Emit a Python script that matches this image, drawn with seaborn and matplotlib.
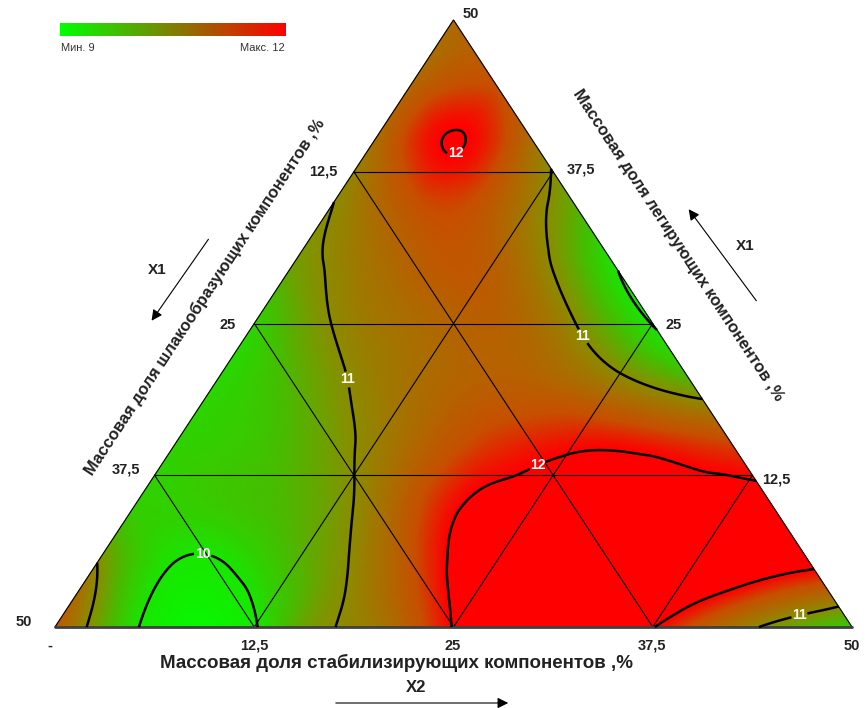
import numpy as np
import matplotlib
matplotlib.use("Agg")
import matplotlib.pyplot as plt
import matplotlib.tri as mtri
from matplotlib.colors import LinearSegmentedColormap
import seaborn as sns

# node grid step along each side, %
step = 5
# values, one list per row of constant alloying share
# (l = 0, 5, ..., 50); inside a row the stabilizing share goes s = 0, 5, ...
row_l00 = [11.6, 10.08, 9.35, 10.65, 11.2, 12.02, 12.45, 12.3, 11.65, 10.88, 10.3]
row_l05 = [11.05, 9.97, 10.2, 10.88, 11.67, 12.3, 12.5, 12.45, 12.25, 12.05]
row_l10 = [10.3, 10.35, 10.6, 11.2, 11.95, 12.15, 12.25, 12.2, 12.15]
row_l15 = [10.25, 10.4, 10.85, 11.4, 11.8, 11.95, 11.9, 11.75]
row_l20 = [10.2, 10.6, 11.15, 11.45, 11.5, 11.2, 10.7]
row_l25 = [10.25, 11.02, 11.35, 11.5, 11.03, 9.97]
row_l30 = [10.8, 11.3, 11.6, 11.2, 10.05]
row_l35 = [11.0, 11.65, 11.55, 10.7]
row_l40 = [11.3, 12.02, 11.3]
row_l45 = [11.4, 11.65]
row_l50 = [11.4]
rows = [row_l00, row_l05, row_l10, row_l15, row_l20, row_l25,
        row_l30, row_l35, row_l40, row_l45, row_l50]

grid_ticks = [12.5, 25, 37.5]
bottom_labels = ["-", "12,5", "25", "37,5", "50"]
left_labels = ["12,5", "25", "37,5", "50"]
right_labels = ["50", "37,5", "25", "12,5"]
contour_levels = [10, 11, 12]
vmin, vmax = 9, 12

sns.set_theme(style="white")
plt.rcParams["font.family"] = ["Liberation Sans", "DejaVu Sans"]

# ---- build triangulation of the nodes
s_pts, l_pts, z_pts, idx = [], [], [], {}
for i, row in enumerate(rows):
    for j, v in enumerate(row):
        idx[(i, j)] = len(z_pts)
        s_pts.append(j * step)
        l_pts.append(i * step)
        z_pts.append(v)
n = len(rows)
triangles = []
for i in range(n - 1):
    for j in range(n - 1 - i):
        triangles.append([idx[(i, j)], idx[(i, j + 1)], idx[(i + 1, j)]])
        if j + 1 <= n - 2 - i:
            triangles.append([idx[(i, j + 1)], idx[(i + 1, j + 1)], idx[(i + 1, j)]])

s_pts = np.array(s_pts, float)
l_pts = np.array(l_pts, float)
z_pts = np.array(z_pts, float)
x = s_pts + l_pts / 2
y = l_pts
tri = mtri.Triangulation(x, y, triangles)
interp = mtri.CubicTriInterpolator(tri, z_pts, kind="min_E")
tri_f, z_f = mtri.UniformTriRefiner(tri).refine_field(z_pts, triinterpolator=interp, subdiv=5)

field_cmap = LinearSegmentedColormap.from_list(
    "field", [(0, "#00ff00"), (1 / 3, "#19e600"), (0.5, "#46be00"),
              (2 / 3, "#8c8c00"), (0.8333, "#b86000"), (0.9, "#c84e00"), (1, "#ff0000")])
legend_cmap = sns.blend_palette(["#00ff00", "#ff0000"], as_cmap=True)

W, H = 865, 708
kx, ky = 797 / 50, 607 / 50   # pixels per unit
ox, oy = 55, 627              # pixel position of the bottom-left vertex

fig = plt.figure(figsize=(W / 100, H / 100), dpi=100)
ax = fig.add_axes([0, 0, 1, 1])
ax.set_xlim(-ox / kx, (W - ox) / kx)
ax.set_ylim(-(H - oy) / ky, oy / ky)
ax.axis("off")


def fp(px, py):
    return px / W, 1 - py / H


ax.tripcolor(tri_f, z_f, shading="gouraud", cmap=field_cmap, vmin=vmin, vmax=vmax)

# grid lines parallel to the sides
for v in grid_ticks:
    ax.plot([v / 2, 50 - v / 2], [v, v], color="black", lw=0.8)
    ax.plot([v, v + (50 - v) / 2], [0, 50 - v], color="black", lw=0.8)
    ax.plot([50 - v, (50 - v) / 2], [0, 50 - v], color="black", lw=0.8)
ax.plot([0, 25, 50], [0, 50, 0], color="black", lw=0.8)
ax.plot([0, 50], [0, 0], color="#404040", lw=2)

cs = ax.tricontour(tri_f, z_f, levels=contour_levels, colors="black", linewidths=1.8)
label_px = [(457, 158), (345, 380), (203, 550), (533, 455), (585, 335), (800, 618)]
label_xy = [((px - ox) / kx, (oy - py) / ky) for px, py in label_px]
labels = ax.clabel(cs, manual=label_xy, inline=True, inline_spacing=1,
                   fmt="%d", colors="white", fontsize=10)
for t in labels:
    t.set_fontweight("bold")
    t.set_rotation(0)

tick_kw = dict(fontsize=10.5, fontweight="bold", color="#222222", va="center")
for lab, px in zip(bottom_labels, [50, 254, 453, 652, 852]):
    fig.text(*fp(px, 646), lab, ha="center", **tick_kw)
for lab, (px, py) in zip(left_labels, [(337, 172), (236, 325), (140, 470), (32, 622)]):
    fig.text(*fp(px, py), lab, ha="right", **tick_kw)
for lab, (px, py) in zip(right_labels, [(463, 14), (567, 170), (665, 325), (762, 480)]):
    fig.text(*fp(px, py), lab, ha="left", **tick_kw)

title_kw = dict(fontweight="bold", color="#222222", ha="center", va="center")
fig.text(*fp(397, 663), "Массовая доля стабилизирующих компонентов ,%", fontsize=13.5, **title_kw)
fig.text(*fp(416, 688), "X2", fontsize=12, **title_kw)
fig.text(*fp(205, 297), "Массовая доля шлакообразующих компонентов ,%", fontsize=12,
         rotation=56.6, rotation_mode="anchor", **title_kw)
fig.text(*fp(678, 245), "Массовая доля легирующих компонентов ,%", fontsize=12,
         rotation=-56.6, rotation_mode="anchor", **title_kw)
fig.text(*fp(157, 270), "X1", fontsize=11, **title_kw)
fig.text(*fp(745, 246), "X1", fontsize=11, **title_kw)

arrow_kw = dict(arrowstyle="-|>", color="black", lw=0.8, mutation_scale=16)
for tail, tip in [((333, 703), (511, 703)), ((210, 237), (150, 323)), ((758, 303), (687, 207))]:
    ax.annotate("", xy=fp(*tip), xytext=fp(*tail), xycoords="figure fraction",
                textcoords="figure fraction", arrowprops=arrow_kw)

# min/max legend strip
cax = fig.add_axes([60 / W, 1 - 36 / H, 226 / W, 13 / H])
cax.imshow(np.linspace(0, 1, 256)[None, :], aspect="auto", cmap=legend_cmap)
cax.set_axis_off()
fig.text(*fp(61, 48), "Мин. " + str(vmin), fontsize=8, ha="left", va="center", color="#333333")
fig.text(*fp(285, 48), "Макс. " + str(vmax), fontsize=8, ha="right", va="center", color="#333333")

fig.savefig("out.png", dpi=100)
